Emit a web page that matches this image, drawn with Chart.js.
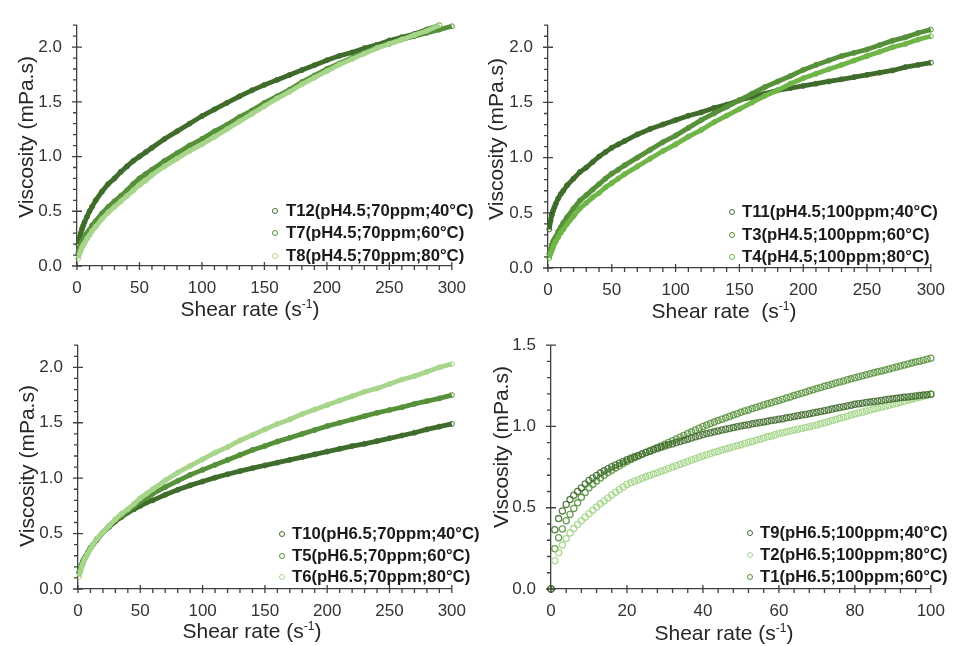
<!DOCTYPE html>
<html>
<head>
<meta charset="utf-8">
<script src="https://cdn.jsdelivr.net/npm/chart.js@4.4.0/dist/chart.umd.min.js"></script>
<style>
  body { margin: 0; background: #fff; font-family: "Liberation Sans", Arial, sans-serif; }
  #wrap { position: relative; width: 957px; height: 646px; overflow: hidden; }
  .pane { position: absolute; }
  .lg { position: absolute; font-weight: bold; font-size: 16.7px; color: #1a1a1a; white-space: nowrap; line-height: 1; transform: translateY(-50%); }
  .dot { position: absolute; width: 4px; height: 4px; border-radius: 50%; border: 1.3px solid; transform: translate(-50%, -50%); }
  .xt { position: absolute; font-size: 21px; color: #262626; white-space: nowrap; line-height: 1; transform: translate(-50%, -50%); }
  .yt { position: absolute; font-size: 21px; color: #262626; white-space: nowrap; line-height: 1; transform: translate(-50%, -50%) rotate(-90deg); }
  .sup { font-size: 12px; vertical-align: 8px; }
</style>
</head>
<body>
<div id="wrap">
  <canvas id="c1" class="pane" width="478" height="320" style="left:0;top:0"></canvas>
  <canvas id="c2" class="pane" width="479" height="320" style="left:478px;top:0"></canvas>
  <canvas id="c3" class="pane" width="478" height="326" style="left:0;top:320px"></canvas>
  <canvas id="c4" class="pane" width="479" height="326" style="left:478px;top:320px"></canvas>
</div>
<script>
// shear rate grid used by the three 0-300 panels
const rates = [1,2,3,4,5,6,8,10,12,15,20,25,30,35,40,45,50,55,60,70,80,90,100,110,120,130,140,150,160,170,180,190,200,210,220,230,240,250,260,270,280,290,300];

// panel a : pH4.5, 70ppm
const t12 = [0.20,0.26,0.30,0.34,0.37,0.40,0.45,0.50,0.54,0.60,0.68,0.75,0.80,0.86,0.91,0.96,1.00,1.04,1.08,1.16,1.23,1.30,1.37,1.43,1.49,1.55,1.605,1.655,1.70,1.745,1.79,1.835,1.88,1.92,1.95,1.99,2.02,2.06,2.09,2.12,2.16,2.20,null];
const t7  = [0.12,0.16,0.19,0.22,0.24,0.26,0.30,0.33,0.37,0.41,0.48,0.54,0.59,0.64,0.69,0.75,0.80,0.84,0.88,0.96,1.03,1.10,1.16,1.23,1.29,1.36,1.42,1.49,1.55,1.61,1.68,1.74,1.80,1.85,1.90,1.95,2.00,2.03,2.07,2.10,2.13,2.16,2.19];
const t8  = [0.07,0.11,0.14,0.17,0.19,0.21,0.25,0.28,0.32,0.36,0.43,0.49,0.54,0.59,0.64,0.69,0.74,0.78,0.83,0.91,0.98,1.05,1.11,1.18,1.25,1.32,1.39,1.46,1.53,1.59,1.66,1.72,1.78,1.84,1.89,1.94,1.99,2.03,2.07,2.11,2.15,2.20,null];

// panel b : pH4.5, 100ppm
const t11 = [0.35,0.43,0.48,0.52,0.55,0.58,0.63,0.67,0.70,0.75,0.81,0.87,0.91,0.96,1.01,1.05,1.09,1.12,1.15,1.21,1.26,1.30,1.34,1.38,1.41,1.45,1.48,1.52,1.55,1.58,1.61,1.63,1.65,1.67,1.69,1.71,1.73,1.75,1.77,1.79,1.82,1.84,1.86];
const t3  = [0.13,0.17,0.21,0.24,0.26,0.28,0.33,0.37,0.41,0.46,0.54,0.61,0.66,0.71,0.76,0.81,0.855,0.89,0.93,1.00,1.07,1.14,1.20,1.27,1.34,1.40,1.46,1.52,1.58,1.64,1.69,1.74,1.795,1.84,1.88,1.92,1.95,1.98,2.02,2.06,2.09,2.13,2.16];
const t4  = [0.09,0.13,0.16,0.19,0.22,0.24,0.28,0.32,0.35,0.40,0.47,0.54,0.59,0.64,0.68,0.73,0.77,0.81,0.85,0.92,0.99,1.06,1.12,1.19,1.25,1.32,1.38,1.44,1.50,1.56,1.61,1.67,1.72,1.76,1.80,1.84,1.88,1.92,1.96,2.00,2.03,2.07,2.10];

// panel c : pH6.5, 70ppm
const t10 = [0.15,0.19,0.22,0.25,0.27,0.29,0.33,0.37,0.40,0.44,0.51,0.56,0.61,0.65,0.69,0.72,0.75,0.78,0.80,0.85,0.895,0.935,0.97,1.005,1.035,1.063,1.09,1.115,1.14,1.165,1.19,1.215,1.24,1.265,1.29,1.31,1.335,1.36,1.385,1.41,1.44,1.465,1.49];
const t5  = [0.15,0.19,0.22,0.25,0.27,0.29,0.33,0.37,0.40,0.45,0.51,0.57,0.62,0.66,0.705,0.745,0.79,0.82,0.86,0.92,0.975,1.03,1.075,1.12,1.165,1.21,1.255,1.29,1.33,1.365,1.40,1.435,1.47,1.50,1.53,1.56,1.59,1.615,1.64,1.67,1.695,1.72,1.75];
const t6  = [0.11,0.16,0.20,0.23,0.26,0.28,0.32,0.36,0.40,0.45,0.51,0.57,0.63,0.68,0.72,0.77,0.82,0.86,0.90,0.98,1.05,1.11,1.17,1.23,1.28,1.34,1.39,1.44,1.49,1.53,1.58,1.62,1.66,1.70,1.74,1.78,1.81,1.85,1.89,1.92,1.96,2.00,2.03];

// panel d : pH6.5, 100ppm, shear rate 0..100 step 1
const rates100 = Array.from({length: 101}, (_, i) => i);
const t9 = [0,0.365,0.433,0.480,0.520,0.550,0.577,0.600,0.622,0.646,0.668,0.683,0.698,0.713,0.727,0.740,0.752,0.763,0.774,0.785,
  0.795,0.804,0.813,0.822,0.831,0.840,0.848,0.856,0.864,0.872,0.880,0.887,0.894,0.901,0.908,0.915,0.922,0.929,0.936,0.943,
  0.950,0.956,0.961,0.967,0.972,0.978,0.983,0.988,0.993,0.998,1.003,1.007,1.011,1.016,1.020,1.024,1.028,1.032,1.036,1.040,
  1.044,1.048,1.053,1.057,1.062,1.066,1.070,1.074,1.079,1.083,1.087,1.092,1.097,1.102,1.107,1.112,1.117,1.122,1.126,1.131,
  1.136,1.140,1.143,1.147,1.150,1.154,1.157,1.160,1.164,1.167,1.170,1.173,1.176,1.179,1.182,1.185,1.188,1.190,1.193,1.195,1.198];
const t2 = [0,0.174,0.223,0.270,0.310,0.345,0.372,0.397,0.420,0.442,0.463,0.484,0.504,0.524,0.542,0.560,0.578,0.595,0.612,0.628,
  0.643,0.653,0.663,0.672,0.681,0.690,0.699,0.707,0.716,0.724,0.732,0.741,0.750,0.759,0.768,0.777,0.785,0.794,0.802,0.810,
  0.818,0.826,0.833,0.841,0.848,0.855,0.862,0.868,0.875,0.881,0.888,0.895,0.902,0.908,0.915,0.922,0.929,0.936,0.942,0.949,
  0.956,0.961,0.967,0.972,0.978,0.983,0.988,0.994,0.999,1.004,1.009,1.016,1.023,1.029,1.036,1.043,1.050,1.057,1.063,1.070,
  1.077,1.083,1.089,1.095,1.101,1.107,1.113,1.119,1.124,1.130,1.136,1.142,1.149,1.155,1.162,1.168,1.174,1.180,1.186,1.192,1.198];
const t1 = [0,0.248,0.316,0.369,0.420,0.459,0.496,0.530,0.564,0.594,0.623,0.644,0.664,0.683,0.700,0.717,0.731,0.745,0.759,0.772,
  0.785,0.796,0.807,0.818,0.829,0.840,0.850,0.860,0.870,0.880,0.890,0.901,0.912,0.923,0.934,0.945,0.956,0.967,0.978,0.989,
  1.000,1.009,1.018,1.027,1.036,1.045,1.053,1.062,1.070,1.079,1.087,1.095,1.102,1.110,1.117,1.125,1.132,1.139,1.146,1.153,
  1.160,1.167,1.175,1.182,1.190,1.197,1.204,1.211,1.219,1.226,1.233,1.240,1.247,1.253,1.260,1.267,1.274,1.280,1.287,1.293,
  1.300,1.306,1.312,1.318,1.324,1.330,1.336,1.342,1.348,1.354,1.360,1.366,1.372,1.378,1.384,1.390,1.396,1.402,1.408,1.414,1.420];

const xTitle = 'Shear rate';
const yTitle = 'Viscosity (mPa.s)';

// small tick marks drawn on the scales (major ticks cross the axis, minors sit outside)
const axisTicks = {
  id: 'axisTicks',
  afterDraw(chart, args, o) {
    const {ctx, scales: {x, y}} = chart;
    ctx.save();
    ctx.strokeStyle = '#404040';
    ctx.lineWidth = 1.3;
    ctx.beginPath();
    const nx = Math.round((x.max - x.min) / o.xMinor);
    for (let i = 0; i <= nx; i++) {
      const v = x.min + i * o.xMinor;
      const px = x.getPixelForValue(v);
      const major = i % o.xEvery === 0;
      ctx.moveTo(px, y.bottom - (major ? 4 : 0));
      ctx.lineTo(px, y.bottom + 4);
    }
    const ny = Math.round((y.max - y.min) / o.yMinor);
    for (let i = 0; i <= ny; i++) {
      const v = y.min + i * o.yMinor;
      const py = y.getPixelForValue(v);
      const major = i % o.yEvery === 0;
      ctx.moveTo(x.left - (major ? 5 : 4), py);
      ctx.lineTo(x.left + (major ? 5 : 0), py);
    }
    ctx.stroke();
    ctx.restore();
  }
};

function series(xs, ys, color, line) {
  const pts = [];
  xs.forEach((v, i) => { if (ys[i] !== null) pts.push({x: v, y: ys[i]}); });
  return {
    data: pts,
    showLine: line,
    borderColor: color,
    borderWidth: line ? 4.8 : 1.3,
    pointRadius: line ? 2.5 : 3.1,
    pointBorderWidth: line ? 1 : 1.3,
    pointBorderColor: color,
    pointBackgroundColor: 'rgba(255,255,255,0)',
    clip: false
  };
}

function panel(id, sets, box, ax) {
  new Chart(document.getElementById(id), {
    type: 'scatter',
    data: {datasets: sets},
    options: {
      responsive: false,
      animation: false,
      layout: {padding: {left: 0, top: box.top, right: box.right, bottom: 0}},
      plugins: {legend: {display: false}, tooltip: {enabled: false}, axisTicks: ax},
      scales: {
        x: {
          type: 'linear', min: 0, max: ax.xMax,
          grid: {display: false, drawTicks: false, tickLength: 0},
          border: {color: '#404040', width: 1.3},
          ticks: {stepSize: ax.xStep, padding: 12, color: '#333', font: {family: 'Liberation Sans', size: 17}, maxRotation: 0},
          afterFit: s => { s.height = box.xh; }
        },
        y: {
          type: 'linear', min: 0, max: ax.yMax,
          grid: {display: false, drawTicks: false, tickLength: 0},
          border: {color: '#404040', width: 1.3},
          ticks: {padding: 15, color: '#333', font: {family: 'Liberation Sans', size: 17}, callback: v => v.toFixed(1)},
          afterBuildTicks: s => { s.ticks = ax.yTicks.map(v => ({value: v})); },
          afterFit: s => { s.width = box.yw; }
        }
      }
    },
    plugins: [axisTicks]
  });
}

const dark = '#3f6b2b', mid = '#56913a', light = '#a6d58b', bright = '#6fb547';
const yT22 = [0, 0.5, 1.0, 1.5, 2.0];
const ax300 = {xMax: 300, xStep: 50, xMinor: 10, xEvery: 5, yMax: 2.2, yMinor: 0.1, yEvery: 5, yTicks: yT22};

panel('c1', [series(rates, t8, light, true), series(rates, t7, mid, true), series(rates, t12, dark, true)],
  {top: 10, right: 16, xh: 54, yw: 77}, ax300);
panel('c2', [series(rates, t4, bright, true), series(rates, t3, mid, true), series(rates, t11, dark, true)],
  {top: 12, right: 24, xh: 52, yw: 70}, ax300);
panel('c3', [series(rates, t6, light, true), series(rates, t5, mid, true), series(rates, t10, dark, true)],
  {top: 12, right: 14, xh: 57, yw: 78}, ax300);
panel('c4', [series(rates100, t9, 'rgba(63,107,43,0.85)', false), series(rates100, t2, 'rgba(160,212,132,0.85)', false), series(rates100, t1, 'rgba(86,145,58,0.85)', false)],
  {top: 13, right: 20, xh: 57, yw: 73},
  {xMax: 100, xStep: 20, xMinor: 4, xEvery: 5, yMax: 1.5, yMinor: 0.1, yEvery: 5, yTicks: [0, 0.5, 1.0, 1.5]});

// legends and axis titles as html text
const legends = [
  {dot: 275, txt: 286, ys: [211, 233, 256], items: [['T12(pH4.5;70ppm;40°C)', dark], ['T7(pH4.5;70ppm;60°C)', mid], ['T8(pH4.5;70ppm;80°C)', light]]},
  {dot: 732, txt: 742, ys: [212, 235, 257], items: [['T11(pH4.5;100ppm;40°C)', dark], ['T3(pH4.5;100ppm;60°C)', mid], ['T4(pH4.5;100ppm;80°C)', bright]]},
  {dot: 282, txt: 292, ys: [534, 556, 577], items: [['T10(pH6.5;70ppm;40°C)', dark], ['T5(pH6.5;70ppm;60°C)', mid], ['T6(pH6.5;70ppm;80°C)', light]]},
  {dot: 750, txt: 760, ys: [533, 555, 577], items: [['T9(pH6.5;100ppm;40°C)', dark], ['T2(pH6.5;100ppm;80°C)', light], ['T1(pH6.5;100ppm;60°C)', mid]]}
];
const wrap = document.getElementById('wrap');
legends.forEach(l => {
  l.items.forEach(([t, c], i) => {
    const d = document.createElement('div');
    d.className = 'dot';
    d.style.left = l.dot + 'px'; d.style.top = l.ys[i] + 'px'; d.style.borderColor = c;
    wrap.appendChild(d);
    const s = document.createElement('div');
    s.className = 'lg';
    s.style.left = l.txt + 'px'; s.style.top = l.ys[i] + 'px';
    s.textContent = t;
    wrap.appendChild(s);
  });
});
const xTitles = [[250, 308, ' '], [724, 310, '&nbsp; '], [252, 630, ' '], [724, 632, ' ']];
xTitles.forEach(([x, y, gap]) => {
  const d = document.createElement('div');
  d.className = 'xt';
  d.style.left = x + 'px'; d.style.top = y + 'px';
  d.innerHTML = xTitle + gap + '(s<span class="sup">-1</span>)';
  wrap.appendChild(d);
});
[[25, 137], [495, 139], [26, 466], [500, 447]].forEach(([x, y]) => {
  const d = document.createElement('div');
  d.className = 'yt';
  d.style.left = x + 'px'; d.style.top = y + 'px';
  d.textContent = yTitle;
  wrap.appendChild(d);
});
</script>
</body>
</html>
